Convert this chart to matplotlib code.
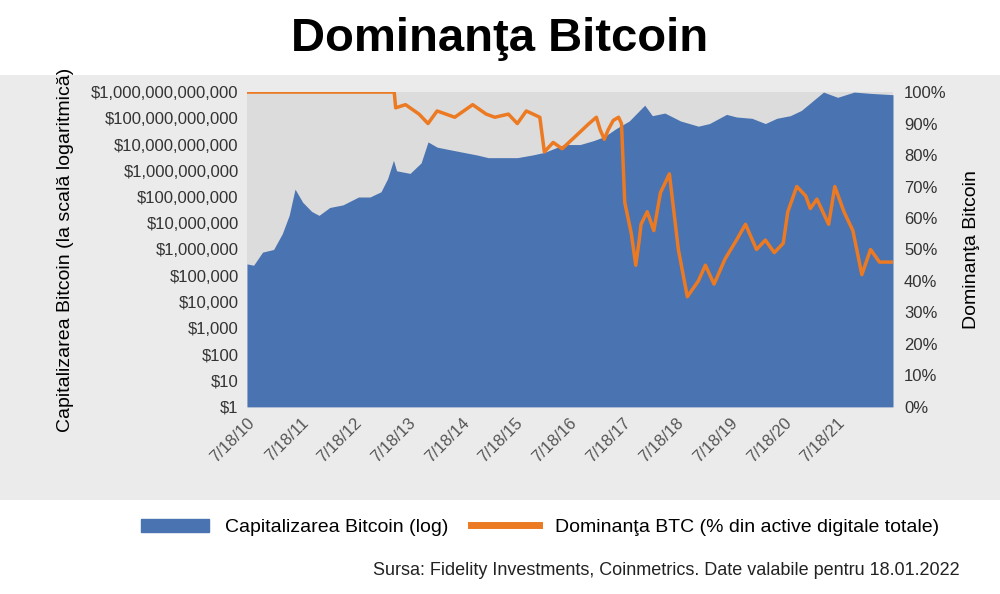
import matplotlib.pyplot as plt
import matplotlib.patches as mpatches
from datetime import datetime

# market cap, log10 of USD
cap_dates = ["2010-07-18", "2010-09-01", "2010-11-01", "2011-01-15", "2011-03-15", "2011-05-01",
             "2011-06-10", "2011-08-01", "2011-10-01", "2011-11-20", "2012-02-01", "2012-05-01",
             "2012-08-15", "2012-11-01", "2013-01-15", "2013-03-01", "2013-04-10", "2013-05-01",
             "2013-08-01", "2013-10-15", "2013-12-01", "2014-02-01", "2014-05-01", "2014-08-01",
             "2014-11-01", "2015-01-15", "2015-05-01", "2015-08-01", "2015-11-10", "2016-02-01",
             "2016-06-15", "2016-10-01", "2017-01-01", "2017-03-15", "2017-06-01", "2017-09-01",
             "2017-12-15", "2018-02-05", "2018-05-01", "2018-08-15", "2018-12-15", "2019-03-01",
             "2019-06-25", "2019-09-01", "2019-12-15", "2020-03-15", "2020-06-01", "2020-09-01",
             "2020-11-15", "2021-01-08", "2021-04-15", "2021-07-20", "2021-11-10", "2022-03-01",
             "2022-08-01"]
cap_log = [5.45, 5.4, 5.9, 6.0, 6.6, 7.3,
           8.3, 7.8, 7.45, 7.3, 7.6, 7.7,
           8.0, 8.0, 8.2, 8.7, 9.4, 9.0,
           8.9, 9.3, 10.1, 9.9, 9.8, 9.7,
           9.6, 9.5, 9.5, 9.5, 9.6, 9.7,
           10.0, 10.0, 10.15, 10.3, 10.6, 10.9,
           11.5, 11.1, 11.2, 10.9, 10.7, 10.8,
           11.15, 11.05, 11.0, 10.8, 11.0, 11.1,
           11.3, 11.55, 12.0, 11.8, 12.0, 11.95, 11.9]

# BTC dominance, %
dom_dates = ["2010-07-18", "2013-04-15", "2013-04-25", "2013-07-01", "2013-10-01", "2013-12-01",
             "2014-02-01", "2014-06-01", "2014-10-01", "2015-01-01", "2015-03-01", "2015-06-01",
             "2015-08-01", "2015-10-01", "2016-01-01", "2016-02-01", "2016-04-01", "2016-06-01",
             "2016-09-01", "2016-12-01", "2017-01-20", "2017-02-15", "2017-03-15", "2017-04-10",
             "2017-05-15", "2017-06-20", "2017-07-10", "2017-08-01", "2017-09-15", "2017-10-15",
             "2017-11-05", "2017-11-20", "2018-01-01", "2018-02-15", "2018-04-01", "2018-06-01",
             "2018-08-01", "2018-10-01", "2018-12-15", "2019-02-01", "2019-04-01", "2019-06-15",
             "2019-09-01", "2019-11-01", "2020-01-15", "2020-03-15", "2020-05-15", "2020-07-15",
             "2020-08-15", "2020-10-15", "2020-12-15", "2021-01-15", "2021-03-01", "2021-05-20",
             "2021-07-01", "2021-09-01", "2021-11-01", "2022-01-01", "2022-03-01", "2022-05-01",
             "2022-08-01"]
dom_pct = [100, 100, 95, 96, 93, 90,
           94, 92, 96, 93, 92, 93,
           90, 94, 92, 81, 84, 82,
           86, 90, 92, 88, 85, 88,
           91, 92, 90, 65, 55, 45,
           52, 58, 62, 56, 68, 74,
           50, 35, 40, 45, 39, 47,
           53, 58, 50, 53, 49, 52,
           62, 70, 67, 63, 66, 58,
           70, 62, 56, 42, 50, 46, 46]

tick_years = list(range(2010, 2022))
cap_labels = ["\\$1", "\\$10", "\\$100", "\\$1,000", "\\$10,000", "\\$100,000", "\\$1,000,000",
              "\\$10,000,000", "\\$100,000,000", "\\$1,000,000,000", "\\$10,000,000,000",
              "\\$100,000,000,000", "\\$1,000,000,000,000"]

blue = "#4a73b1"
orange = "#ec7a22"
plt.rcParams["font.family"] = "Liberation Sans"

fig = plt.figure(figsize=(10, 5.94), dpi=100)
fig.patch.set_facecolor("white")
fig.patches.append(mpatches.Rectangle((0.0, (594 - 500) / 594), 1.0, 425 / 594, transform=fig.transFigure,
                                      facecolor="#ebebeb", edgecolor="none", zorder=-5))
fig.text(0.5, 0.935, "Dominanţa Bitcoin", ha="center", va="center", fontsize=34, fontweight="bold")

ax = fig.add_axes([0.247, 0.315, 0.646, 0.530])
ax.set_facecolor("#dcdcdc")
cd = [datetime.strptime(d, "%Y-%m-%d") for d in cap_dates]
ax.fill_between(cd, 0, cap_log, color=blue, linewidth=0)
ax.set_ylim(0, 12)
ax.set_yticks(range(13))
ax.set_yticklabels(cap_labels, fontsize=12, color="#333333")
ax.set_xlim(datetime(2010, 7, 18), datetime(2022, 8, 1))
xt = [datetime(y, 7, 18) for y in tick_years]
ax.set_xticks(xt)
ax.set_xticklabels([f"7/18/{y % 100}" for y in tick_years], rotation=45, ha="right",
                   rotation_mode="anchor", fontsize=12, color="#555555")
for s in ax.spines.values():
    s.set_visible(False)
ax.tick_params(length=0, pad=6)
ax.set_ylabel("Capitalizarea Bitcoin (la scală logaritmică)", fontsize=14, labelpad=12)

ax2 = ax.twinx()
dd = [datetime.strptime(d, "%Y-%m-%d") for d in dom_dates]
ax2.plot(dd, dom_pct, color=orange, linewidth=2.5)
ax2.set_ylim(0, 100)
ax2.set_yticks(range(0, 101, 10))
ax2.set_yticklabels([f"{v}%" for v in range(0, 101, 10)], fontsize=12, color="#333333")
for s in ax2.spines.values():
    s.set_visible(False)
ax2.tick_params(length=0, pad=8)
ax2.set_ylabel("Dominanţa Bitcoin", fontsize=14, labelpad=12)

handles = [mpatches.Patch(color=blue, label="Capitalizarea Bitcoin (log)"),
           plt.Line2D([], [], color=orange, linewidth=5, label="Dominanţa BTC (% din active digitale totale)")]
fig.legend(handles=handles, loc="center", bbox_to_anchor=(0.54, 0.112), ncol=2, frameon=False,
           fontsize=14, handlelength=3.5, columnspacing=1.2)
fig.text(0.96, 0.04, "Sursa: Fidelity Investments, Coinmetrics. Date valabile pentru 18.01.2022",
         ha="right", va="center", fontsize=13, color="#222222")

fig.savefig("out.png", dpi=100)
